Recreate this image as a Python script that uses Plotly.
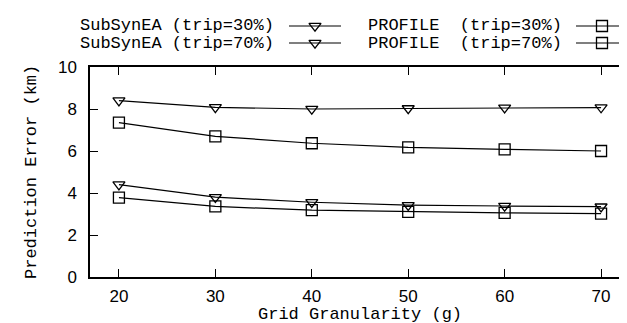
import plotly.graph_objects as go

# ---- data ----
granularity = [20, 30, 40, 50, 60, 70]
subsynea_trip30 = [4.40, 3.80, 3.56, 3.42, 3.38, 3.35]
subsynea_trip70 = [8.40, 8.08, 8.00, 8.03, 8.06, 8.07]
profile_trip30 = [3.78, 3.36, 3.18, 3.10, 3.05, 3.02]
profile_trip70 = [7.35, 6.70, 6.37, 6.17, 6.08, 6.00]

series_names = ["SubSynEA (trip=30%)", "PROFILE  (trip=30%)",
                "SubSynEA (trip=70%)", "PROFILE  (trip=70%)"]
series_values = [subsynea_trip30, profile_trip30, subsynea_trip70, profile_trip70]
series_symbols = ["triangle-down-open", "square-open", "triangle-down-open", "square-open"]

x_ticks = [20, 30, 40, 50, 60, 70]
y_ticks = [0, 2, 4, 6, 8, 10]
x_title = "Grid Granularity (g)"
y_title = "Prediction Error (km)"

# ---- layout constants (pixels) ----
W, H = 627, 323
PL, PR, PT, PB = 82, 622, 59, 269
MONO = "Liberation Mono"
SANS = "Liberation Sans"
FS = 17


def msize(sym):
    return 10.5 if "triangle" in sym else 11


fig = go.Figure()

for name, vals, sym in zip(series_names, series_values, series_symbols):
    fig.add_trace(go.Scatter(
        x=granularity, y=vals, mode="lines+markers", name=name,
        line=dict(color="black", width=1.2),
        marker=dict(symbol=sym, size=msize(sym),
                    color="black", line=dict(color="black", width=1.3)),
        showlegend=False, cliponaxis=False,
    ))

# ---- manual gnuplot-style legend (text, then sample) ----
legend_rows = [18, 35]              # pixel y of rows
legend_text_right = [268, 556]      # pixel x where text ends (per column)
legend_sample = [(281, 333), (568, 620)]
for i, (name, sym) in enumerate(zip(series_names, series_symbols)):
    col, row = i % 2, i // 2
    y = legend_rows[row]
    x0, x1 = legend_sample[col]
    fig.add_annotation(x=legend_text_right[col] / W, y=1 - y / H, xref="paper", yref="paper",
                       text=name.replace(" ", "&nbsp;"), showarrow=False,
                       xanchor="right", yanchor="middle",
                       font=dict(family=MONO, size=FS, color="black"))
    fig.add_trace(go.Scatter(x=[x0, x1], y=[y, y], mode="lines", xaxis="x2", yaxis="y2",
                             line=dict(color="black", width=1.2), showlegend=False,
                             hoverinfo="skip"))
    fig.add_trace(go.Scatter(x=[(x0 + x1) / 2], y=[y], mode="markers", xaxis="x2", yaxis="y2",
                             marker=dict(symbol=sym, size=msize(sym),
                                         color="black", line=dict(color="black", width=1.3)),
                             showlegend=False, hoverinfo="skip"))

# ---- axis titles ----
fig.add_annotation(x=(PL + PR) / 2 / W, y=1 - 306 / H, xref="paper", yref="paper",
                   text=x_title, showarrow=False, xanchor="center", yanchor="middle",
                   font=dict(family=MONO, size=FS, color="black"))
fig.add_annotation(x=23 / W, y=1 - (PT + PB) / 2 / H, xref="paper", yref="paper",
                   text=y_title, showarrow=False, xanchor="center", yanchor="middle",
                   textangle=-90, font=dict(family=MONO, size=FS, color="black"))

axis_common = dict(showline=True, linecolor="black", linewidth=1.5, mirror="ticks",
                   ticks="inside", ticklen=8, tickwidth=1, tickcolor="black",
                   showgrid=False, zeroline=False, automargin=False,
                   tickfont=dict(family=SANS, size=FS, color="black"))

fig.update_layout(
    width=W, height=H, template="none",
    margin=dict(l=0, r=0, t=0, b=0),
    paper_bgcolor="white", plot_bgcolor="rgba(0,0,0,0)",
    showlegend=False,
    xaxis=dict(domain=[PL / W, PR / W], range=[17, 73], tickvals=x_ticks,
               ticklabelstandoff=3, **axis_common),
    yaxis=dict(domain=[1 - PB / H, 1 - PT / H], range=[0, 10], tickvals=y_ticks,
               ticklabelstandoff=8, **axis_common),
    xaxis2=dict(domain=[0, 1], range=[0, W], visible=False, anchor="y2", fixedrange=True),
    yaxis2=dict(domain=[0, 1], range=[H, 0], visible=False, anchor="x2", fixedrange=True),
)

fig.write_html("out.html")
